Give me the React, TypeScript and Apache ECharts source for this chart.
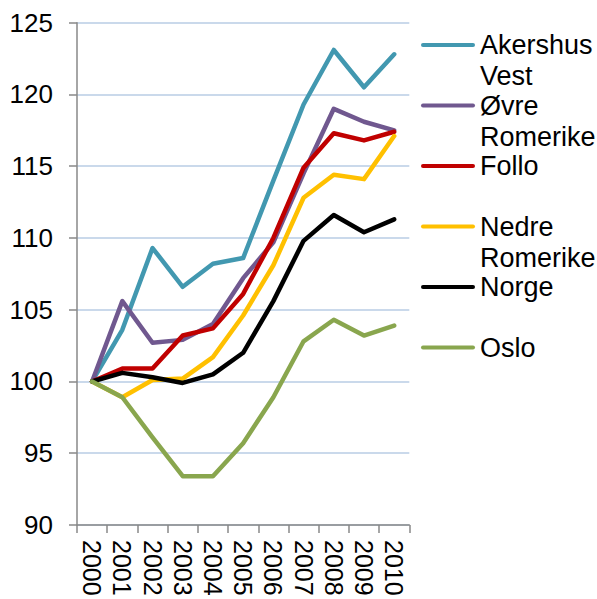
import React, { useEffect, useRef } from 'react';
import * as echarts from 'echarts';

const years = ['2000', '2001', '2002', '2003', '2004', '2005', '2006', '2007', '2008', '2009', '2010'];
const seriesNames = ['Akershus Vest', 'Øvre Romerike', 'Follo', 'Nedre Romerike', 'Norge', 'Oslo'];
const legendLabels = ['Akershus\nVest', 'Øvre\nRomerike', 'Follo', 'Nedre\nRomerike', 'Norge', 'Oslo'];
const akershusVest = [100, 103.6, 109.3, 106.6, 108.2, 108.6, 114.0, 119.3, 123.1, 120.5, 122.8];
const ovreRomerike = [100, 105.6, 102.7, 102.9, 104.0, 107.2, 109.7, 114.5, 119.0, 118.1, 117.5];
const follo = [100, 100.9, 100.9, 103.2, 103.7, 106.1, 110.0, 114.9, 117.3, 116.8, 117.4];
const nedreRomerike = [100, 98.9, 100.1, 100.2, 101.7, 104.6, 108.1, 112.8, 114.4, 114.1, 117.1];
const norge = [100, 100.6, 100.3, 99.9, 100.5, 102.0, 105.6, 109.8, 111.6, 110.4, 111.3];
const oslo = [100, 98.9, 96.1, 93.4, 93.4, 95.7, 98.9, 102.8, 104.3, 103.2, 103.9];
const seriesValues = [akershusVest, ovreRomerike, follo, nedreRomerike, norge, oslo];
const colors = ['#4298B0', '#70588F', '#C00000', '#FFC000', '#000000', '#89A64E'];

const FONT = '"Liberation Sans", Arial, sans-serif';

export default function App() {
  const ref = useRef<HTMLDivElement>(null);
  useEffect(() => {
    if (!ref.current) return;
    const chart = echarts.init(ref.current, undefined, { renderer: 'svg' });
    chart.setOption({
      animation: false,
      color: colors,
      grid: { left: 77, top: 22.7, right: 187.7, bottom: 74, containLabel: false, outerBoundsMode: 'none' },
      legend: {
        orient: 'vertical',
        left: 421,
        top: -1.5,
        padding: 0,
        itemWidth: 54,
        itemHeight: 12,
        itemGap: -32.5,
        icon: 'path://M2,0 L52,0 A2,2 0 0 1 52,4 L2,4 A2,2 0 0 1 2,0 Z',
        data: seriesNames,
        formatter: (name: string) => {
          const label = legendLabels[seriesNames.indexOf(name)];
          return '\n' + label + (label.includes('\n') ? '' : '\n ');
        },
        textStyle: { fontFamily: FONT, fontSize: 27, color: '#000', lineHeight: 31 },
      },
      xAxis: {
        type: 'category',
        data: years,
        boundaryGap: true,
        axisLine: { lineStyle: { color: '#898989', width: 1.5 } },
        axisTick: { show: true, length: 8, lineStyle: { color: '#898989', width: 1.5 } },
        axisLabel: { rotate: -90, fontFamily: FONT, fontSize: 25, color: '#000', margin: 15, interval: 0 },
        splitLine: { show: false },
      },
      yAxis: {
        type: 'value',
        min: 90,
        max: 125,
        interval: 5,
        axisLine: { show: true, lineStyle: { color: '#898989', width: 1.5 } },
        axisTick: { show: true, length: 8, lineStyle: { color: '#898989', width: 1.5 } },
        axisLabel: { fontFamily: FONT, fontSize: 26, color: '#000', margin: 24 },
        splitLine: { show: true, lineStyle: { color: '#B8CCE4', width: 1.5 } },
      },
      series: seriesNames.map((name, i) => ({
        name,
        type: 'line',
        data: seriesValues[i],
        symbol: 'none',
        lineStyle: { width: 4.5, color: colors[i], join: 'round', cap: 'round' },
        itemStyle: { color: colors[i] },
      })),
    });
    return () => chart.dispose();
  }, []);
  return <div ref={ref} style={{ width: 597, height: 599, position: 'absolute', left: 0, top: 0 }} />;
}
